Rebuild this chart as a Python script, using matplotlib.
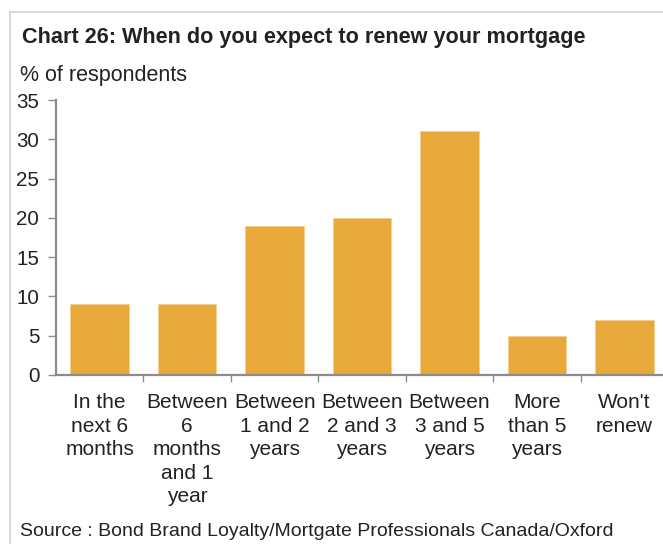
import matplotlib.pyplot as plt
from matplotlib.patches import Rectangle
import numpy as np

plt.rcParams['font.family'] = ['Liberation Sans', 'DejaVu Sans']

categories = ["In the\nnext 6\nmonths", "Between\n6\nmonths\nand 1\nyear",
              "Between\n1 and 2\nyears", "Between\n2 and 3\nyears",
              "Between\n3 and 5\nyears", "More\nthan 5\nyears", "Won't\nrenew"]
values = [9, 9, 19, 20, 31, 5, 7]
yticks = [0, 5, 10, 15, 20, 25, 30, 35]

bar_color = "#E8A83A"
axis_color = "#8c8c8c"
text_color = "#222222"

W, H = 663, 544
fig = plt.figure(figsize=(W / 100, H / 100), dpi=100)

# light frame around the whole chart
fig.patches.append(Rectangle((10 / W, -0.1), 1.2, 1 - 12 / H + 0.1,
                             transform=fig.transFigure, fill=False,
                             edgecolor="#d0d0d0", linewidth=1.2))

# axes run a little past the right edge
left, right, bottom, top = 56, 668, 375, 100
ax = fig.add_axes([left / W, 1 - bottom / H, (right - left) / W, (bottom - top) / H])

x = np.arange(len(values))
ax.bar(x, values, width=0.67, color=bar_color, edgecolor="#f3cf8e", linewidth=0.6)

ax.set_xlim(-0.5, len(values) - 0.5)
ax.set_ylim(0, 35)
ax.set_yticks(yticks)
ax.set_yticklabels([str(t) for t in yticks], fontsize=14.8, color=text_color)

ax.set_xticks(x)
ax.set_xticklabels(categories, fontsize=15, color=text_color, linespacing=1.3, va="top")
ax.set_xticks(np.arange(len(values)) + 0.5, minor=True)
ax.tick_params(axis="x", which="major", length=0, pad=13)
ax.tick_params(axis="x", which="minor", length=5, color=axis_color, width=1)
ax.tick_params(axis="y", length=6, color=axis_color, width=1, pad=6)

for side in ["top", "right"]:
    ax.spines[side].set_visible(False)
ax.spines["left"].set_color(axis_color)
ax.spines["left"].set_linewidth(1.6)
ax.spines["bottom"].set_color(axis_color)
ax.spines["bottom"].set_linewidth(1.6)

fig.text(22 / W, 1 - 37 / H, "Chart 26: When do you expect to renew your mortgage",
         fontsize=15.6, fontweight="bold", color=text_color, va="center", ha="left")
fig.text(20 / W, 1 - 75 / H, "% of respondents", fontsize=15.5, color=text_color,
         va="center", ha="left")
fig.text(20 / W, 1 - 531 / H, "Source : Bond Brand Loyalty/Mortgate Professionals Canada/Oxford",
         fontsize=14, color=text_color, va="center", ha="left")

fig.savefig("out.png", dpi=100)
